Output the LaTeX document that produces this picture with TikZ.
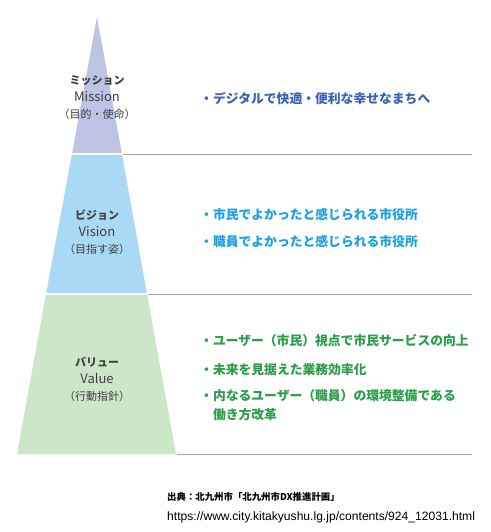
\documentclass[tikz,border=0pt]{standalone}
\usepackage{fontspec}
\setmainfont{Noto Sans CJK JP}
\newfontfamily\urlfont{Liberation Sans}
\definecolor{misfill}{HTML}{BCC3E3}
\definecolor{visfill}{HTML}{A9D9F5}
\definecolor{valfill}{HTML}{CCE6C8}
\definecolor{mistext}{HTML}{3A63B4}
\definecolor{vistext}{HTML}{1CA0E0}
\definecolor{valtext}{HTML}{2A9E48}
\definecolor{labgray}{HTML}{404040}
\definecolor{sepgray}{HTML}{A8A8A8}
\tikzset{
  x=1pt,y=-1pt,
  tier/.style={draw=white,line width=1.2pt},
  sepline/.style={draw=sepgray,line width=0.8pt},
  lab/.style={align=center,text=labgray,font=\fontsize{11}{17}\selectfont,inner sep=0pt},
  item/.style={anchor=west,align=left,font=\fontsize{12.8}{19}\selectfont\bfseries,inner sep=0pt},
  src/.style={anchor=west,inner sep=0pt,text=black}
}
\newcommand{\latlab}[1]{{\fontsize{13}{17}\selectfont #1}}
\begin{document}
\begin{tikzpicture}
\useasboundingbox[fill=white] (0,0) rectangle (490,532);
% tiers
\fill[misfill] (97,17) -- (122,154) -- (72,154) -- cycle;
\fill[visfill] (72,154) -- (122,154) -- (147,294) -- (46,294) -- cycle;
\fill[valfill] (46,294) -- (147,294) -- (176,454) -- (17,454) -- cycle;
\draw[tier] (70,154) -- (124,154);
\draw[tier] (44,294) -- (149,294);
% separator lines
\coordinate (m1) at (123,154); \coordinate (m2) at (472,154);
\coordinate (v1) at (148,294); \coordinate (v2) at (472,294);
\coordinate (l1) at (177,454); \coordinate (l2) at (472,454);
\draw[sepline] (m1) -- (m2);
\draw[sepline] (v1) -- (v2);
\draw[sepline] (l1) -- (l2);
% tier labels
\node[lab] (mis) at (97,98) {\bfseries ミッション\\\latlab{Mission}\\（目的・使命）};
\node[lab] (vis) at (97,232) {\bfseries ビジョン\\\latlab{Vision}\\（目指す姿）};
\node[lab] (val) at (97,379) {\bfseries バリュー\\\latlab{Value}\\（行動指針）};
% items
\node[item,text=mistext] (i1) at (200,99) {・デジタルで快適・便利な幸せなまちへ};
\node[item,text=vistext] (i2) at (200,215) {・市民でよかったと感じられる市役所};
\node[item,text=vistext] (i3) at (200,242) {・職員でよかったと感じられる市役所};
\node[item,text=valtext] (i4) at (200,341) {・ユーザー（市民）視点で市民サービスの向上};
\node[item,text=valtext] (i5) at (200,370) {・未来を見据えた業務効率化};
\node[item,text=valtext,anchor=north west] (i6) at (200,389) {・内なるユーザー（職員）の環境整備である\\\hspace*{1em}働き方改革};
% source
\node[src,font=\fontsize{9.4}{12}\selectfont\bfseries] (s1) at (167,497) {出典：北九州市「北九州市DX推進計画」};
\node[src,font=\urlfont\fontsize{12.1}{14}\selectfont] (s2) at (167,517) {https://www.city.kitakyushu.lg.jp/contents/924\_12031.html};
\end{tikzpicture}
\end{document}
